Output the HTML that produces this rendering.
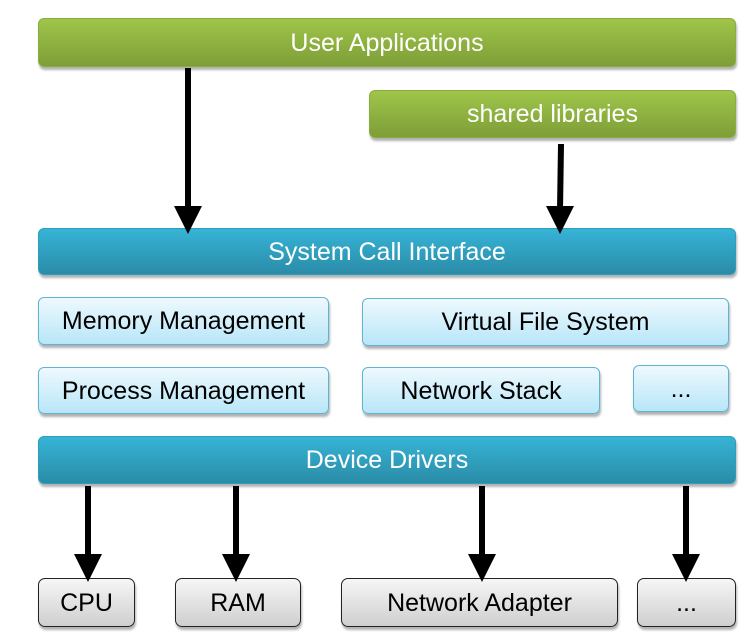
<!DOCTYPE html>
<html><head><meta charset="utf-8"><style>
body{margin:0;width:745px;height:640px;background:#fff;position:relative;overflow:hidden;font-family:"Liberation Sans",sans-serif;}
.b{position:absolute;box-sizing:border-box;display:flex;align-items:center;justify-content:center;border-radius:6px;font-size:25px;padding-top:1px;box-shadow:1px 3px 2px rgba(0,0,0,0.3);}
.g{background:linear-gradient(#9fc54a,#7e9e37);color:#fff;border:1px solid #8aad40;}
.t{background:linear-gradient(#36b4d6,#2a8ca8);color:#fff;border:1px solid #2e9dbd;}
.l{background:linear-gradient(#eef9fe,#b8e6f8);color:#000;border:1px solid #5fb4cf;}
.w{background:linear-gradient(#f6f6f6,#cfcfcf);color:#000;border:1.5px solid #222;border-radius:7px;}
svg{position:absolute;left:0;top:0;}
</style></head><body>
<div class="b g" style="left:38px;top:18px;width:698px;height:49px;">User Applications</div>
<div class="b g" style="left:369px;top:90px;width:367px;height:48px;">shared libraries</div>
<div class="b t" style="left:38px;top:228px;width:698px;height:47px;">System Call Interface</div>
<div class="b l" style="left:38px;top:297px;width:291px;height:48px;">Memory Management</div>
<div class="b l" style="left:362px;top:298px;width:367px;height:48px;">Virtual File System</div>
<div class="b l" style="left:38px;top:367px;width:291px;height:47px;">Process Management</div>
<div class="b l" style="left:362px;top:367px;width:238px;height:47px;">Network Stack</div>
<div class="b l" style="left:633px;top:365px;width:96px;height:47px;">...</div>
<div class="b t" style="left:38px;top:436px;width:698px;height:48px;">Device Drivers</div>
<div class="b w" style="left:38px;top:578px;width:97px;height:49px;">CPU</div>
<div class="b w" style="left:175px;top:578px;width:126px;height:49px;">RAM</div>
<div class="b w" style="left:341px;top:578px;width:277px;height:49px;">Network Adapter</div>
<div class="b w" style="left:637px;top:578px;width:99px;height:49px;">...</div>
<svg width="745" height="640">
<g stroke="#000" stroke-width="6">
<line x1="188" y1="68" x2="188" y2="210"/>
<line x1="561" y1="144" x2="560" y2="210"/>
<line x1="88" y1="486" x2="88" y2="558"/>
<line x1="236" y1="486" x2="236" y2="558"/>
<line x1="482" y1="486" x2="482" y2="558"/>
<line x1="686" y1="486" x2="686" y2="558"/>
</g>
<g fill="#000">
<polygon points="174,206 202,206 188,234"/>
<polygon points="546,206 574,206 560,234"/>
<polygon points="74,554 102,554 88,582"/>
<polygon points="222,554 250,554 236,582"/>
<polygon points="468,554 496,554 482,582"/>
<polygon points="672,554 700,554 686,582"/>
</g>
</svg>
</body></html>
